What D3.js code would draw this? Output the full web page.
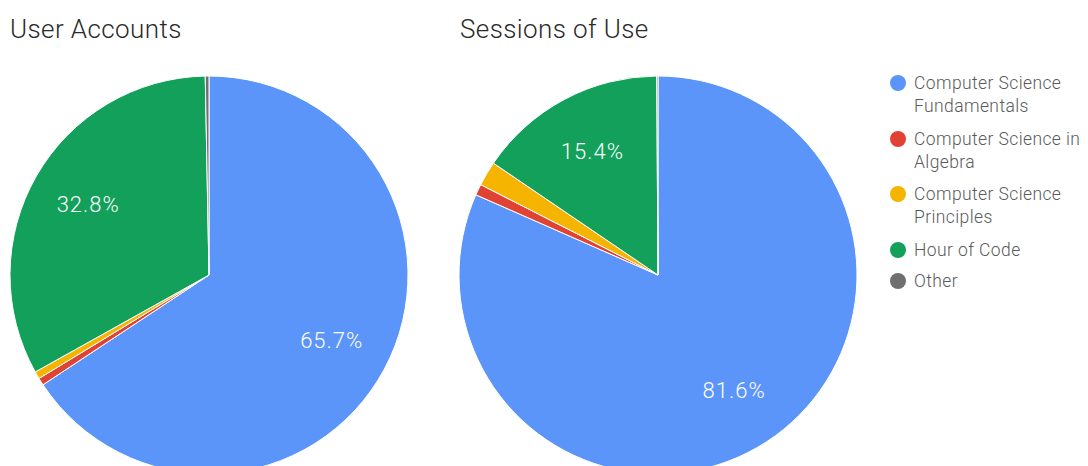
<!DOCTYPE html>
<html><head><meta charset="utf-8">
<script src="https://cdn.jsdelivr.net/npm/d3@7"></script>
<style>body{margin:0;background:#fff;}svg{display:block;}</style>
</head><body>
<svg id="c" width="1088" height="466"></svg>
<script>
const categories = ["Computer Science Fundamentals","Computer Science in Algebra","Computer Science Principles","Hour of Code","Other"];
const legendLines = [["Computer Science","Fundamentals"],["Computer Science in","Algebra"],["Computer Science","Principles"],["Hour of Code"],["Other"]];
const colors = ["#5b95f9","#e04334","#f4b400","#12a05b","#6f6f6f"];
const userAccounts = [65.7, 0.6, 0.6, 32.8, 0.3];
const sessionsOfUse = [81.6, 0.9, 2.0, 15.4, 0.1];
const titles = ["User Accounts","Sessions of Use"];

const svg = d3.select("#c");
const font = "Roboto, Arial, sans-serif";
const pie = d3.pie().sort(null).value(d => d);
const R = 199;
const arc = d3.arc().innerRadius(0).outerRadius(R);
const labelArc = d3.arc().innerRadius(R*0.7).outerRadius(R*0.7);

const charts = [
  {data: userAccounts, cx: 209, cy: 275, tx: 10},
  {data: sessionsOfUse, cx: 658, cy: 275, tx: 460}
];
charts.forEach((c, i) => {
  svg.append("text").attr("x", c.tx).attr("y", 38)
    .attr("font-family", font).attr("font-size", 26).attr("font-weight", 300)
    .attr("letter-spacing", 0.4).attr("fill", "#2a2a2a")
    .text(titles[i]);
  const g = svg.append("g").attr("transform", `translate(${c.cx},${c.cy})`);
  const arcs = pie(c.data);
  g.selectAll("path").data(arcs).join("path")
    .attr("d", arc).attr("fill", (d, j) => colors[j])
    .attr("stroke", "#fff").attr("stroke-width", 1);
  g.selectAll("text").data(arcs.filter(d => d.data >= 5)).join("text")
    .attr("transform", d => `translate(${labelArc.centroid(d)})`)
    .attr("text-anchor", "middle").attr("dy", "0.3em")
    .attr("font-family", font).attr("font-size", 22).attr("font-weight", 300)
    .attr("letter-spacing", 1).attr("fill", "#fff")
    .text(d => d.data.toFixed(1) + "%");
});

const legendY = [83, 139, 194, 250, 281];
const lg = svg.append("g");
categories.forEach((cat, i) => {
  lg.append("circle").attr("cx", 898).attr("cy", legendY[i]).attr("r", 8).attr("fill", colors[i]);
  const t = lg.append("text").attr("x", 914).attr("y", legendY[i])
    .attr("font-family", font).attr("font-size", 17.5).attr("font-weight", 300)
    .attr("letter-spacing", 0.4).attr("fill", "#5a5a5a");
  legendLines[i].forEach((line, k) => {
    t.append("tspan").attr("x", 914).attr("dy", k === 0 ? "0.35em" : "23px").text(line);
  });
});
</script>
</body></html>
